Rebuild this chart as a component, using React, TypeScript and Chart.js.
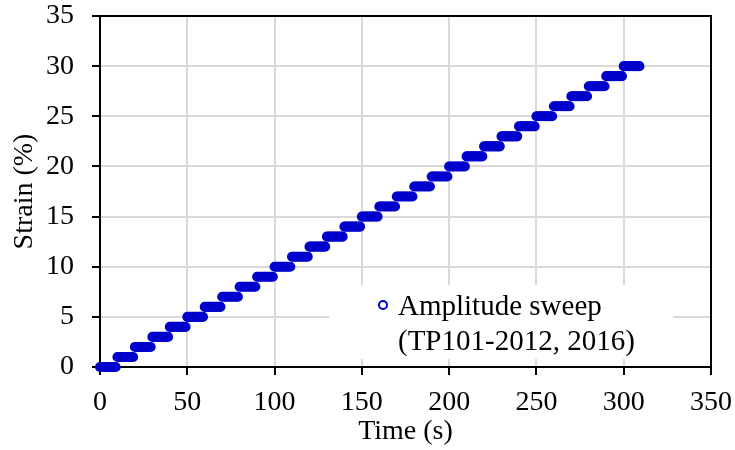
import { useEffect, useRef } from "react";
import { Chart, registerables } from "chart.js";

Chart.register(...registerables);

// Step start times (s) and the strain level (%) held during each step
const stepStartTimes = [
  0, 10, 20, 30, 40, 50, 60, 70, 80, 90, 100, 110, 120, 130, 140, 150, 160,
  170, 180, 190, 200, 210, 220, 230, 240, 250, 260, 270, 280, 290, 300,
];
const stepStrains = [
  0, 1, 2, 3, 4, 5, 6, 7, 8, 9, 10, 11, 12, 13, 14, 15, 16, 17, 18, 19, 20,
  21, 22, 23, 24, 25, 26, 27, 28, 29, 30,
];
// Sampling instants within each hold (s after step start)
const holdOffsets = [0, 1, 2, 3, 4, 5, 6, 7, 8, 9];

const seriesLabel = ["Amplitude sweep", "(TP101-2012, 2016)"];
const xTitle = "Time (s)";
const yTitle = "Strain (%)";

const FONT = "'Liberation Serif', 'Times New Roman', serif";
const BLUE = "#0000CC";

export default function App() {
  const ref = useRef<HTMLCanvasElement | null>(null);

  useEffect(() => {
    if (!ref.current) return;
    const points: { x: number; y: number }[] = [];
    stepStartTimes.forEach((t0, i) => {
      holdOffsets.forEach((dt) => points.push({ x: t0 + dt, y: stepStrains[i] }));
    });

    const framePlugin = {
      id: "frameAndLegend",
      afterDraw(chart: any) {
        const { ctx, chartArea } = chart;
        const { left, top, right, bottom } = chartArea;
        ctx.save();
        // top & right frame
        ctx.strokeStyle = "#000";
        ctx.lineWidth = 2;
        ctx.beginPath();
        ctx.moveTo(left, top);
        ctx.lineTo(right, top);
        ctx.lineTo(right, bottom);
        ctx.stroke();
        // legend box
        const bx = left + 229;
        const by = top + 269;
        ctx.fillStyle = "#fff";
        ctx.fillRect(bx, by, 344, 74);
        // marker
        ctx.beginPath();
        ctx.arc(bx + 54, by + 20, 4, 0, Math.PI * 2);
        ctx.fillStyle = "#fff";
        ctx.fill();
        ctx.strokeStyle = BLUE;
        ctx.lineWidth = 2;
        ctx.stroke();
        // text
        ctx.fillStyle = "#000";
        ctx.font = `29px ${FONT}`;
        ctx.textAlign = "left";
        ctx.textBaseline = "alphabetic";
        ctx.fillText(seriesLabel[0], bx + 69, by + 30);
        ctx.fillText(seriesLabel[1], bx + 69, by + 64.5);
        ctx.restore();
      },
    };

    const chart = new Chart(ref.current, {
      type: "scatter",
      data: {
        datasets: [
          {
            label: seriesLabel.join(" "),
            data: points,
            pointStyle: "circle",
            pointRadius: 4.3,
            pointBorderWidth: 1.5,
            borderColor: BLUE,
            backgroundColor: BLUE,
            showLine: false,
            clip: false as any,
          },
        ],
      },
      options: {
        responsive: false,
        animation: false,
        layout: { padding: { top: 16, right: 24, left: 0, bottom: 0 } },
        plugins: {
          legend: { display: false },
          tooltip: { enabled: false },
        },
        scales: {
          x: {
            type: "linear",
            min: 0,
            max: 350,
            ticks: {
              stepSize: 50,
              color: "#000",
              font: { family: FONT, size: 28 },
              padding: 11,
              maxRotation: 0,
            },
            grid: {
              color: "#d9d9d9",
              lineWidth: 2,
              tickColor: "#000",
              tickWidth: 2,
              tickLength: 8,
            },
            border: { color: "#000", width: 2 },
            title: {
              display: true,
              text: xTitle,
              color: "#000",
              font: { family: FONT, size: 28 },
              padding: { top: 0, bottom: 2 },
            },
            afterFit(scale: any) {
              scale.height = 83;
              scale.paddingLeft = 0;
              scale.paddingRight = 0;
              scale.paddingTop = 0;
              scale.paddingBottom = 0;
            },
          },
          y: {
            type: "linear",
            min: 0,
            max: 35,
            ticks: {
              stepSize: 5,
              color: "#000",
              font: { family: FONT, size: 28 },
              padding: 18,
            },
            grid: {
              color: "#d9d9d9",
              lineWidth: 2,
              tickColor: "#000",
              tickWidth: 2,
              tickLength: 8,
            },
            border: { color: "#000", width: 2 },
            title: {
              display: true,
              text: yTitle,
              color: "#000",
              font: { family: FONT, size: 28 },
              padding: { top: 8, bottom: 0 },
            },
            afterFit(scale: any) {
              scale.width = 100;
              scale.paddingLeft = 0;
              scale.paddingRight = 0;
              scale.paddingTop = 0;
              scale.paddingBottom = 0;
            },
          },
        },
      },
      plugins: [framePlugin],
    });
    return () => chart.destroy();
  }, []);

  return (
    <div
      style={{
        position: "fixed",
        left: 0,
        top: 0,
        width: 735,
        height: 450,
        background: "#fff",
      }}
    >
      <canvas ref={ref} width={735} height={450} style={{ width: 735, height: 450 }} />
    </div>
  );
}
